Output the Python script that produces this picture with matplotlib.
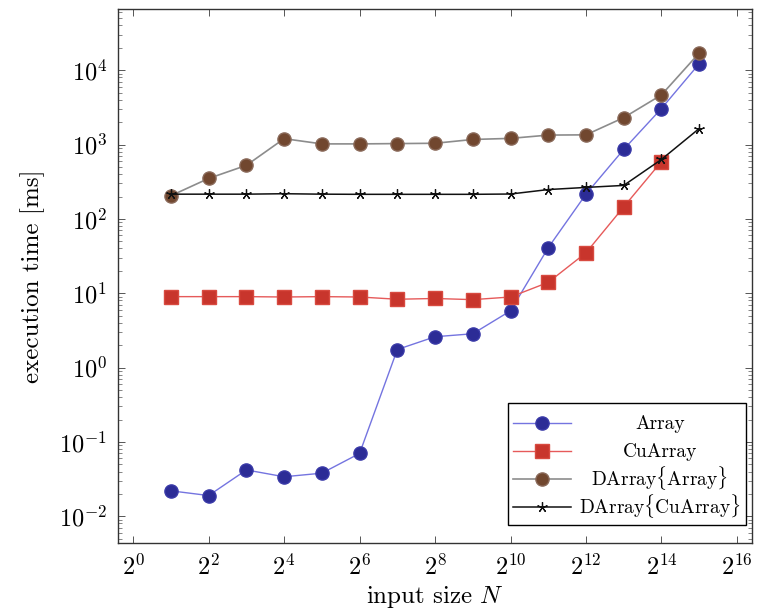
import matplotlib
matplotlib.use("Agg")
import matplotlib.pyplot as plt
import numpy as np
from matplotlib.ticker import LogLocator, FixedLocator, NullFormatter
from matplotlib.transforms import Bbox

plt.rcParams['mathtext.fontset'] = 'cm'
plt.rcParams['font.family'] = ['cmr10', 'DejaVu Serif']
plt.rcParams['axes.formatter.use_mathtext'] = True

exponents = [1, 2, 3, 4, 5, 6, 7, 8, 9, 10, 11, 12, 13, 14, 15]
array_ms = [0.022, 0.019, 0.042, 0.034, 0.038, 0.070, 1.75, 2.6, 2.85, 5.8, 41, 215, 860, 3050, 12200]
cuarray_ms = [9.0, 9.0, 9.0, 8.9, 9.0, 8.9, 8.3, 8.5, 8.2, 8.9, 14, 35, 145, 590]
darray_array_ms = [205, 350, 525, 1200, 1020, 1020, 1030, 1040, 1170, 1210, 1340, 1350, 2300, 4650, 17000]
darray_cuarray_ms = [215, 215, 215, 218, 215, 214, 214, 214, 214, 216, 248, 265, 282, 630, 1640]
xtick_exps = [0, 2, 4, 6, 8, 10, 12, 14, 16]
ytick_exps = [-2, -1, 0, 1, 2, 3, 4]
labels = ["Array", "CuArray", r"DArray$\{$Array$\}$", r"DArray$\{$CuArray$\}$"]

N = [2.0 ** e for e in exponents]

fig = plt.figure(figsize=(7.57, 6.15), dpi=100)
ax = fig.add_axes([0.156, 0.117, 0.8374, 0.868])

ax.plot(N, array_ms, '-', color='#7474e0', lw=1.0, marker='o', ms=9.5,
        mfc='#2c2c96', mec='#3a3aa8', label=labels[0], zorder=3)
ax.plot(N[:len(cuarray_ms)], cuarray_ms, '-', color='#e65a5a', lw=1.0, marker='s', ms=9.5,
        mfc='#c8352c', mec='#d84a40', label=labels[1], zorder=3)
ax.plot(N, darray_array_ms, '-', color='#8c8c8c', lw=1.2, marker='o', ms=9.5,
        mfc='#71472f', mec='#8a6a5a', label=labels[2], zorder=3)
ax.plot(N, darray_cuarray_ms, '-', color='#111111', lw=1.1, marker=(5, 2, 0), ms=7.5,
        mec='#111111', mew=0.9, label=labels[3], zorder=4)

ax.set_xscale('log', base=2)
ax.set_yscale('log')
ax.set_xlim(2 ** -0.4, 2 ** 16.4)
ax.set_ylim(10 ** -2.36, 10 ** 4.82)

ax.xaxis.set_major_locator(FixedLocator([2.0 ** e for e in xtick_exps]))
ax.set_xticklabels([r'$2^{%d}$' % e for e in xtick_exps])
ax.xaxis.set_minor_locator(FixedLocator([]))
ax.yaxis.set_major_locator(FixedLocator([10.0 ** e for e in ytick_exps]))
ax.set_yticklabels([r'$10^{%d}$' % e for e in ytick_exps])
ax.yaxis.set_minor_locator(LogLocator(base=10, subs=np.arange(2, 10), numticks=20))
ax.yaxis.set_minor_formatter(NullFormatter())

ax.tick_params(which='both', direction='in', top=True, right=True, labelsize=17.5, color='#555555')
ax.tick_params(which='major', length=5, width=0.7, pad=8)
ax.tick_params(which='minor', length=3, width=0.5)
for s in ax.spines.values():
    s.set_linewidth(1.0)
    s.set_color('#333333')

ax.set_xlabel(r'input size $N$', fontsize=18, labelpad=3)
ax.set_ylabel('execution time [ms]', fontsize=18, labelpad=10)

leg = ax.legend(loc='lower right', fontsize=14, frameon=True, fancybox=False,
                edgecolor='black', framealpha=1, handlelength=3.0, borderpad=0.25,
                labelspacing=0.0, handletextpad=0.4, borderaxespad=0.2,
                bbox_to_anchor=(0.996, 0.027))
leg.get_frame().set_linewidth(1.0)

# equalise legend row heights and center the texts in their column
fig.canvas.draw()
renderer = fig.canvas.get_renderer()
areas = []
for col in leg._legend_handle_box.get_children():
    for entry in col.get_children():
        areas.append(entry.get_children()[-1])
bbs = [a.get_bbox(renderer) for a in areas]
ymin = min(b.y0 for b in bbs)
ymax = max(b.y1 for b in bbs)
for a, b in zip(areas, bbs):
    fixed = Bbox.from_bounds(b.x0, ymin, b.width, ymax - ymin)
    a.get_bbox = (lambda fb: (lambda *args, **kw: fb))(fixed)

texts = leg.get_texts()
widths = [t.get_window_extent(renderer).width for t in texts]
maxw = max(widths)
for t, w in zip(texts, widths):
    t.set_position(((maxw - w) / 2.0, 0))

fig.savefig('out.png', dpi=100)
